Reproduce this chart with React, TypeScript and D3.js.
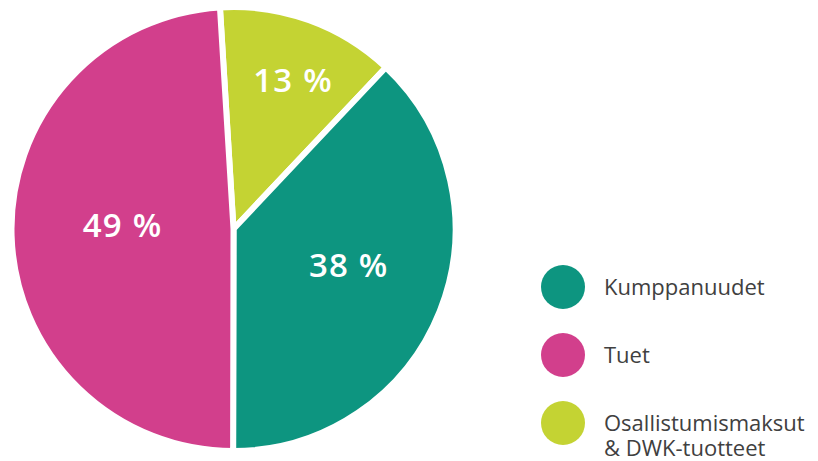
import React from "react";
import * as d3 from "d3";

const categories = ["Osallistumismaksut & DWK-tuotteet", "Kumppanuudet", "Tuet"];
const values = [13, 38, 49];
const valueLabels = ["13 %", "38 %", "49 %"];
const colors = ["#C4D333", "#0D9580", "#D23F8C"];
const legendOrder = [1, 2, 0];
const legendLines = [["Kumppanuudet"], ["Tuet"], ["Osallistumismaksut", "& DWK-tuotteet"]];

export default function App() {
  const W = 818, H = 461;
  const cx = 233.5, cy = 229, r = 222;
  const startA = (-3.5 * Math.PI) / 180;
  const pie = d3.pie<number>().sort(null).startAngle(startA).endAngle(startA + 2 * Math.PI);
  const arcs = pie(values);
  const arc = d3.arc<d3.PieArcDatum<number>>().innerRadius(0).outerRadius(r);
  const labelR = [0.72, 0.545, 0.5];
  const labelShift = [2, -4, 3.3];
  const legendY = [287, 355, 423];
  return (
    <div style={{ position: "fixed", left: 0, top: 0, width: W, height: H, background: "#fff" }}>
      <svg width={W} height={H} style={{ display: "block" }}>
        <g transform={`translate(${cx},${cy})`}>
          {arcs.map((a, i) => (
            <path key={i} d={arc(a) || ""} fill={colors[i]} stroke="#fff" strokeWidth={6} strokeLinejoin="round" />
          ))}
          {arcs.map((a, i) => {
            const m = (a.startAngle + a.endAngle) / 2 + (labelShift[i] * Math.PI) / 180;
            const rr = r * labelR[i];
            const x = Math.sin(m) * rr;
            const y = -Math.cos(m) * rr;
            return (
              <text key={i} x={x} y={y} dy="0.35em" textAnchor="middle" fill="#fff"
                fontFamily="'Open Sans', sans-serif" fontWeight={600} fontSize={33} letterSpacing={1.2}>
                {valueLabels[i]}
              </text>
            );
          })}
        </g>
        {legendOrder.map((ci, k) => (
          <g key={k} transform={`translate(0,${legendY[k]})`}>
            <circle cx={563} cy={0} r={22} fill={colors[ci]} />
            {legendLines[k].map((ln, j) => (
              <text key={j} x={604} y={j * 25} dy="0.35em" fill="#404040"
                fontFamily="'Open Sans', sans-serif" fontSize={22}>
                {ln}
              </text>
            ))}
          </g>
        ))}
      </svg>
    </div>
  );
}
